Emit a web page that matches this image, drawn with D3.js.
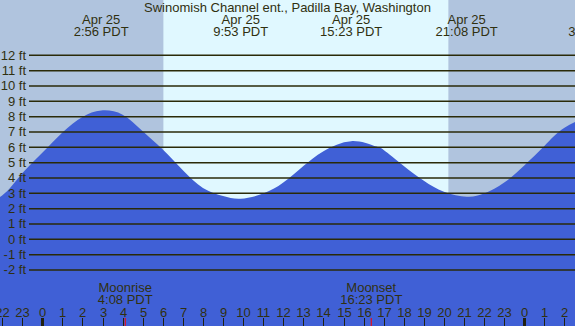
<!DOCTYPE html>
<html>
<head>
<meta charset="utf-8">
<script src="https://cdn.jsdelivr.net/npm/d3@7"></script>
<style>
  body { margin: 0; background: #b0c4de; }
  svg { display: block; font-family: "Liberation Sans", Arial, sans-serif; }
  text { fill: #303010; }
</style>
</head>
<body>
<svg width="575" height="326"></svg>
<script>
const title = 'Swinomish Channel ent., Padilla Bay, Washington';

// hours since midnight Apr 25 (PDT), tide height in feet
const tideHours = [-3.6, -3, -2, -1, 0, 1, 2, 2.93, 4, 5, 6, 7, 8, 9, 9.88, 11, 12, 13, 14, 15.38,
  16.5, 17, 18, 19, 20, 21.13, 22, 23, 24, 25, 26, 27.55];
const tideFeet = [2.3, 2.4, 2.85, 4.3, 5.65, 6.97, 7.98, 8.4, 8.13, 7.05, 5.86, 4.5, 3.35, 2.82, 2.65, 2.98, 3.7, 4.78, 5.75, 6.4,
  6.1, 5.83, 4.78, 3.82, 3.1, 2.78, 2.98, 3.7, 4.82, 6.08, 7.27, 8.2];

// high / low tide labels along the top
const extremeHours = [2.93, 9.88, 15.38, 21.13, 27.55];
const extremeDates = ['Apr 25', 'Apr 25', 'Apr 25', 'Apr 25', 'Apr 26'];
const extremeTimes = ['2:56 PDT', '9:53 PDT', '15:23 PDT', '21:08 PDT', '3:33 PDT'];

const sunrise = 6.03;
const sunset = 20.22;

const moonHours = [4.13, 16.38];
const moonNames = ['Moonrise', 'Moonset'];
const moonTimes = ['4:08 PDT', '16:23 PDT'];

const feetTicks = d3.range(-2, 13);
const hourTicks = d3.range(-2, 27);

const width = 575;
const height = 326;
const svg = d3.select('svg');

const x = d3.scaleLinear().domain([-2.106, 26.525]).range([0, width]);
const y = d3.scaleLinear().domain([0, 12]).range([239.3, 55.3]);

// daylight band
svg.append('rect')
    .attr('x', x(sunrise))
    .attr('y', 0)
    .attr('width', x(sunset) - x(sunrise))
    .attr('height', height)
    .attr('fill', '#e0f8ff');

const pts = tideHours.map((h, i) => [h, tideFeet[i]]);
const area = d3.area()
    .x(d => x(d[0]))
    .y0(height)
    .y1(d => y(d[1]))
    .curve(d3.curveNatural);

svg.append('path')
    .datum(pts)
    .attr('d', area)
    .attr('fill', '#4060d6');

// feet grid
const grid = svg.append('g').attr('class', 'grid');
grid.selectAll('line').data(feetTicks)
  .enter().append('line')
    .attr('x1', 29)
    .attr('x2', width)
    .attr('y1', d => y(d))
    .attr('y2', d => y(d))
    .attr('stroke', '#2a2a08')
    .attr('stroke-width', 1.5);

grid.selectAll('text').data(feetTicks)
  .enter().append('text')
    .attr('x', 26)
    .attr('y', d => y(d) + 4.5)
    .attr('text-anchor', 'end')
    .style('font-size', '13px')
    .text(d => `${d} ft`);

// title
svg.append('text')
    .attr('x', 287.5)
    .attr('y', 12)
    .attr('text-anchor', 'middle')
    .style('font-size', '13px')
    .text(title);

// extremes labels
const ext = svg.append('g').selectAll('g').data(extremeHours)
  .enter().append('g')
    .attr('transform', d => `translate(${x(d)}, 0)`);
ext.append('text')
    .attr('y', 24)
    .attr('text-anchor', 'middle')
    .style('font-size', '13px')
    .text((d, i) => extremeDates[i]);
ext.append('text')
    .attr('y', 36)
    .attr('text-anchor', 'middle')
    .style('font-size', '13px')
    .text((d, i) => extremeTimes[i]);

// moon labels
const moon = svg.append('g').selectAll('g').data(moonHours)
  .enter().append('g')
    .attr('transform', d => `translate(${x(d)}, 0)`);
moon.append('text')
    .attr('y', 292)
    .attr('text-anchor', 'middle')
    .style('font-size', '13px')
    .text((d, i) => moonNames[i]);
moon.append('text')
    .attr('y', 304)
    .attr('text-anchor', 'middle')
    .style('font-size', '13px')
    .text((d, i) => moonTimes[i]);
moon.append('line')
    .attr('y1', 318)
    .attr('y2', height)
    .attr('stroke', '#ff0000')
    .attr('stroke-width', 1);

// hour axis
const hrs = svg.append('g').selectAll('g').data(hourTicks)
  .enter().append('g')
    .attr('transform', d => `translate(${Math.round(x(d)) + 0.5}, 0)`);
hrs.append('line')
    .attr('y1', 318)
    .attr('y2', height)
    .attr('stroke', '#202010')
    .attr('stroke-width', d => ((d % 24) + 24) % 24 === 0 ? 3 : 1);
hrs.append('text')
    .attr('y', 317)
    .attr('text-anchor', 'middle')
    .style('font-size', '13px')
    .text(d => ((d % 24) + 24) % 24);
</script>
</body>
</html>
